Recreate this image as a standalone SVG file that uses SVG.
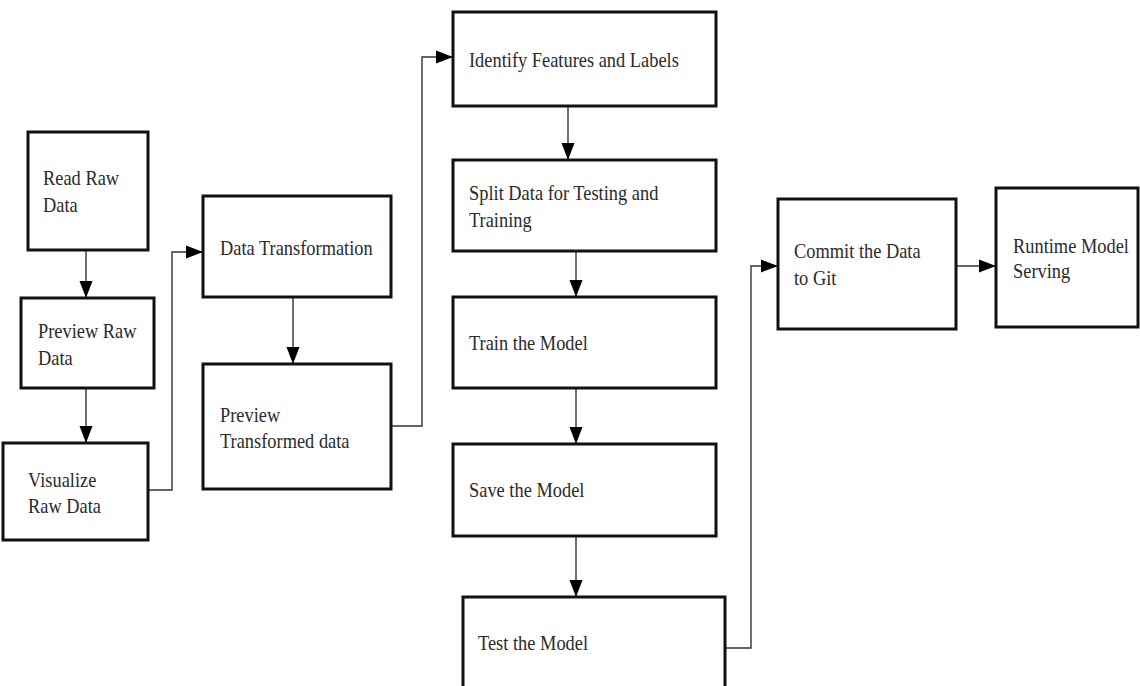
<svg xmlns="http://www.w3.org/2000/svg" width="1140" height="686" viewBox="0 0 1140 686">
  <defs>
    <style>
      .box { fill: #ffffff; stroke: #111111; stroke-width: 3; }
      .lbl { font-family: "Liberation Serif", "Times New Roman", serif; font-size: 20px; fill: #2a2a2a; }
      .wire { fill: none; stroke: #333333; stroke-width: 1.4; }
    </style>
    <marker id="arrow" markerUnits="userSpaceOnUse" markerWidth="18" markerHeight="14" refX="17" refY="7" orient="auto">
      <path d="M0,0.5 L17,7 L0,13.5 Z" fill="#000000"/>
    </marker>
  </defs>
  <rect width="1140" height="686" fill="#ffffff"/>

  <!-- connectors -->
  <g id="connectors" class="wire" marker-end="url(#arrow)">
    <path d="M86,250 V298"/>
    <path d="M86,388 V443"/>
    <path d="M140,490 H172 V252 H203"/>
    <path d="M293,297 V364"/>
    <path d="M391,426 H422 V57 H453"/>
    <path d="M568,106 V160"/>
    <path d="M576,251 V297"/>
    <path d="M576,388 V444"/>
    <path d="M576,536 V597"/>
    <path d="M725,648 H751 V266 H778"/>
    <path d="M956,266 H996"/>
  </g>

  <!-- labels are set in a slightly condensed serif -->
  <g id="read-raw">
    <rect class="box" x="28" y="132" width="120" height="118"/>
    <text class="lbl" transform="translate(43,185) scale(0.92,1)">Read Raw</text>
    <text class="lbl" transform="translate(43,212) scale(0.92,1)">Data</text>
  </g>
  <g id="preview-raw">
    <rect class="box" x="21" y="298" width="133" height="90"/>
    <text class="lbl" transform="translate(38,338) scale(0.92,1)">Preview Raw</text>
    <text class="lbl" transform="translate(38,365) scale(0.92,1)">Data</text>
  </g>
  <g id="visualize-raw">
    <rect class="box" x="3" y="443" width="145" height="97"/>
    <text class="lbl" transform="translate(28,487) scale(0.92,1)">Visualize</text>
    <text class="lbl" transform="translate(28,513) scale(0.92,1)">Raw Data</text>
  </g>
  <g id="data-transformation">
    <rect class="box" x="203" y="196" width="188" height="101"/>
    <text class="lbl" transform="translate(220,255) scale(0.92,1)">Data Transformation</text>
  </g>
  <g id="preview-transformed">
    <rect class="box" x="203" y="364" width="188" height="125"/>
    <text class="lbl" transform="translate(220,422) scale(0.92,1)">Preview</text>
    <text class="lbl" transform="translate(220,448) scale(0.92,1)">Transformed data</text>
  </g>
  <g id="identify-features">
    <rect class="box" x="453" y="12" width="263" height="94"/>
    <text class="lbl" transform="translate(469,67) scale(0.92,1)">Identify Features and Labels</text>
  </g>
  <g id="split-data">
    <rect class="box" x="453" y="160" width="263" height="91"/>
    <text class="lbl" transform="translate(469,200) scale(0.92,1)">Split Data for Testing and</text>
    <text class="lbl" transform="translate(469,227) scale(0.92,1)">Training</text>
  </g>
  <g id="train-model">
    <rect class="box" x="453" y="297" width="263" height="91"/>
    <text class="lbl" transform="translate(469,350) scale(0.92,1)">Train the Model</text>
  </g>
  <g id="save-model">
    <rect class="box" x="453" y="444" width="263" height="92"/>
    <text class="lbl" transform="translate(469,497) scale(0.92,1)">Save the Model</text>
  </g>
  <g id="test-model">
    <rect class="box" x="463" y="597" width="262" height="100"/>
    <text class="lbl" transform="translate(478,650) scale(0.92,1)">Test the Model</text>
  </g>
  <g id="commit-git">
    <rect class="box" x="778" y="199" width="178" height="130"/>
    <text class="lbl" transform="translate(794,258) scale(0.92,1)">Commit the Data</text>
    <text class="lbl" transform="translate(794,285) scale(0.92,1)">to Git</text>
  </g>
  <g id="runtime-serving">
    <rect class="box" x="996" y="188" width="142" height="139"/>
    <text class="lbl" transform="translate(1013,253) scale(0.92,1)">Runtime Model</text>
    <text class="lbl" transform="translate(1013,278) scale(0.92,1)">Serving</text>
  </g>
</svg>
